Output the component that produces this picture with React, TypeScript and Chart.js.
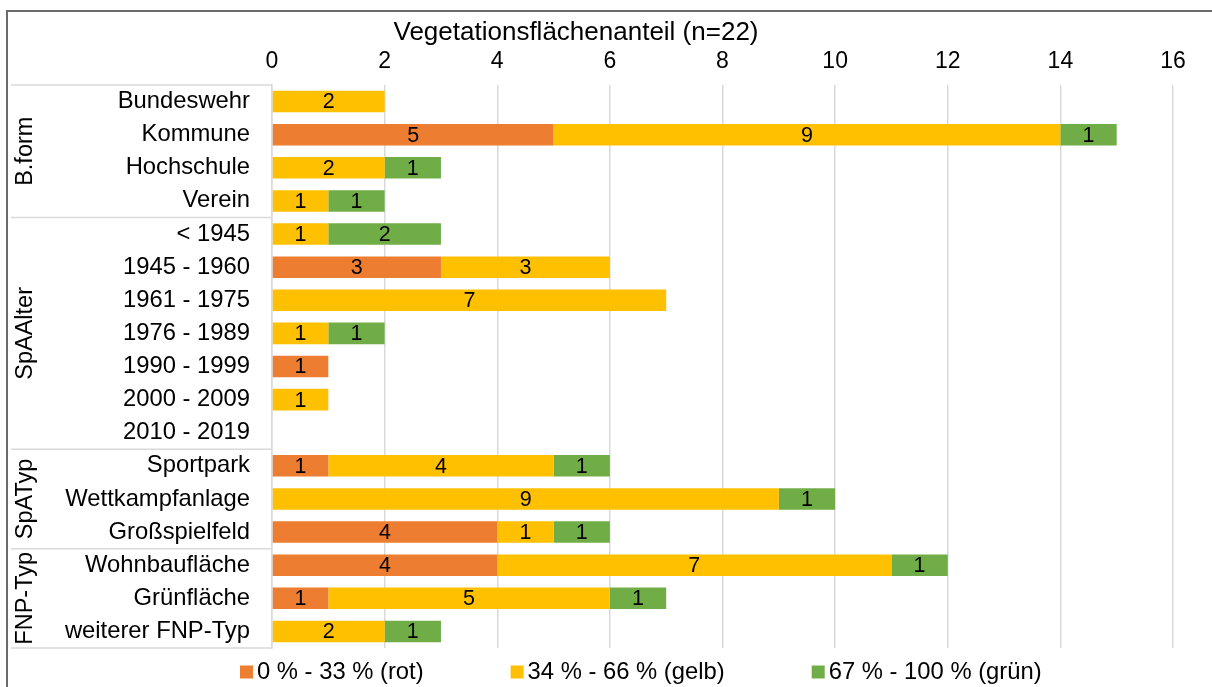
import React, { useEffect, useRef } from "react";
import { Chart, registerables } from "chart.js";

Chart.register(...registerables);

const categories = [
  "Bundeswehr", "Kommune", "Hochschule", "Verein",
  "< 1945", "1945 - 1960", "1961 - 1975", "1976 - 1989", "1990 - 1999", "2000 - 2009", "2010 - 2019",
  "Sportpark", "Wettkampfanlage", "Großspielfeld",
  "Wohnbaufläche", "Grünfläche", "weiterer FNP-Typ",
];
const rot = [0, 5, 0, 0, 0, 3, 0, 0, 1, 0, 0, 1, 0, 4, 4, 1, 0];
const gelb = [2, 9, 2, 1, 1, 3, 7, 1, 0, 1, 0, 4, 9, 1, 7, 5, 2];
const gruen = [0, 1, 1, 1, 2, 0, 0, 1, 0, 0, 0, 1, 1, 1, 1, 1, 1];
const seriesNames = ["0 % - 33 % (rot)", "34 % - 66 % (gelb)", "67 % - 100 % (grün)"];
const seriesColors = ["#ED7D31", "#FFC000", "#70AD47"];
const groups = [
  { name: "B.form", from: 0, to: 3 },
  { name: "SpAAlter", from: 4, to: 10 },
  { name: "SpATyp", from: 11, to: 13 },
  { name: "FNP-Typ", from: 14, to: 16 },
];
const titleText = "Vegetationsflächenanteil (n=22)";
const FONT = "'Liberation Sans', Arial, sans-serif";

const decorPlugin = {
  id: "decor",
  afterDatasetsDraw(chart: any) {
    const ctx = chart.ctx;
    ctx.save();
    ctx.font = `21.5px ${FONT}`;
    ctx.fillStyle = "#000";
    ctx.textAlign = "center";
    ctx.textBaseline = "middle";
    chart.data.datasets.forEach((ds: any, di: number) => {
      const meta = chart.getDatasetMeta(di);
      meta.data.forEach((bar: any, i: number) => {
        const v = ds.data[i];
        if (!v) return;
        ctx.fillText(String(v), (bar.x + bar.base) / 2, bar.y + 1);
      });
    });
    ctx.restore();
  },
  afterDraw(chart: any) {
    const ctx = chart.ctx;
    const y = chart.scales.y;
    const area = chart.chartArea;
    ctx.save();
    // frame
    ctx.strokeStyle = "#6b6b6b";
    ctx.lineWidth = 2;
    ctx.strokeRect(7, 11, chart.width + 20, chart.height + 20);
    // title
    ctx.fillStyle = "#000";
    ctx.font = `26px ${FONT}`;
    ctx.textAlign = "center";
    ctx.textBaseline = "middle";
    ctx.fillText(titleText, 576, 33);
    // group separators + labels
    const step = y.getPixelForValue(1) - y.getPixelForValue(0);
    ctx.strokeStyle = "#d9d9d9";
    ctx.lineWidth = 1.5;
    groups.forEach((g, gi) => {
      const top = y.getPixelForValue(g.from) - step / 2;
      const bot = y.getPixelForValue(g.to) + step / 2;
      ctx.beginPath();
      ctx.moveTo(11, top);
      ctx.lineTo(area.left, top);
      ctx.stroke();
      if (gi === groups.length - 1) {
        ctx.beginPath();
        ctx.moveTo(11, bot);
        ctx.lineTo(area.left, bot);
        ctx.stroke();
      }
      ctx.save();
      ctx.translate(26, (top + bot) / 2);
      ctx.rotate(-Math.PI / 2);
      ctx.font = `23.5px ${FONT}`;
      ctx.fillStyle = "#000";
      ctx.textAlign = "center";
      ctx.textBaseline = "middle";
      ctx.fillText(g.name, 0, 0);
      ctx.restore();
    });
    // legend
    ctx.font = `23.8px ${FONT}`;
    ctx.textAlign = "left";
    ctx.textBaseline = "middle";
    let lx = 240;
    const ly = 672;
    seriesNames.forEach((name, i) => {
      ctx.fillStyle = seriesColors[i];
      ctx.fillRect(lx, ly - 6.5, 13, 13);
      ctx.fillStyle = "#000";
      ctx.fillText(name, lx + 17, ly);
      lx += 17 + ctx.measureText(name).width + 87;
    });
    ctx.restore();
  },
};

export default function App() {
  const ref = useRef<HTMLCanvasElement>(null);
  useEffect(() => {
    document.body.style.margin = "0";
    const chart = new Chart(ref.current!, {
      type: "bar",
      data: {
        labels: categories,
        datasets: [rot, gelb, gruen].map((d, i) => ({
          label: seriesNames[i],
          data: d,
          backgroundColor: seriesColors[i],
          borderWidth: 0,
          barPercentage: 0.65,
          categoryPercentage: 1,
        })),
      },
      options: {
        indexAxis: "y",
        animation: false,
        responsive: false,
        layout: { padding: { left: 0, top: 40, right: 39, bottom: 39 } },
        plugins: { legend: { display: false }, tooltip: { enabled: false }, title: { display: false } },
        scales: {
          x: {
            position: "top",
            stacked: true,
            min: 0,
            max: 16,
            ticks: { stepSize: 2, color: "#000", font: { family: FONT, size: 23 }, padding: 10 },
            grid: { color: "#d9d9d9", lineWidth: 1.5, drawTicks: false },
            border: { display: false },
            afterFit: (s: any) => { s.height = 45; },
          },
          y: {
            stacked: true,
            ticks: { color: "#000", font: { family: FONT, size: 23.8 }, padding: 22, autoSkip: false },
            grid: { display: false, drawTicks: false },
            border: { display: true, color: "#d9d9d9", width: 1.5 },
            afterFit: (s: any) => { s.width = 272; },
          },
        },
      },
      plugins: [decorPlugin],
    } as any);
    return () => chart.destroy();
  }, []);
  return (
    <div style={{ width: 1212, height: 687, background: "#fff" }}>
      <canvas ref={ref} width={1212} height={687} style={{ display: "block" }} />
    </div>
  );
}
